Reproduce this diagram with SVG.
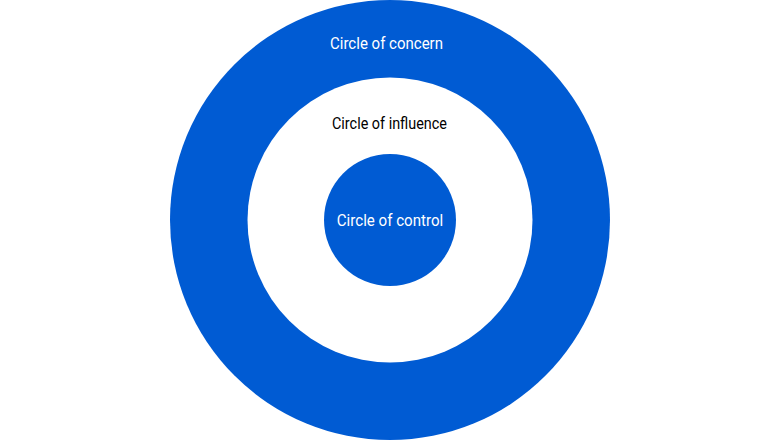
<svg xmlns="http://www.w3.org/2000/svg" width="780" height="440" viewBox="0 0 780 440">
<style>
.blue{fill:#005BD3}
.t{font-family:Roboto,"Liberation Sans",sans-serif;font-size:17px;text-anchor:middle}
</style>
<rect width="780" height="440" fill="#ffffff"/>
<g id="concern">
<circle class="blue" cx="390" cy="220" r="220"/>
<text class="t" x="386.5" y="49" fill="#ffffff" textLength="113" lengthAdjust="spacingAndGlyphs">Circle of concern</text>
</g>
<g id="influence">
<circle cx="390" cy="220" r="142.5" fill="#ffffff"/>
<text class="t" x="389.5" y="129" fill="#000000" textLength="115" lengthAdjust="spacingAndGlyphs">Circle of influence</text>
</g>
<g id="control">
<circle class="blue" cx="390" cy="220" r="66"/>
<text class="t" x="390" y="225.5" fill="#ffffff" textLength="106.5" lengthAdjust="spacingAndGlyphs">Circle of control</text>
</g>
<g id="connectors"/>
</svg>
